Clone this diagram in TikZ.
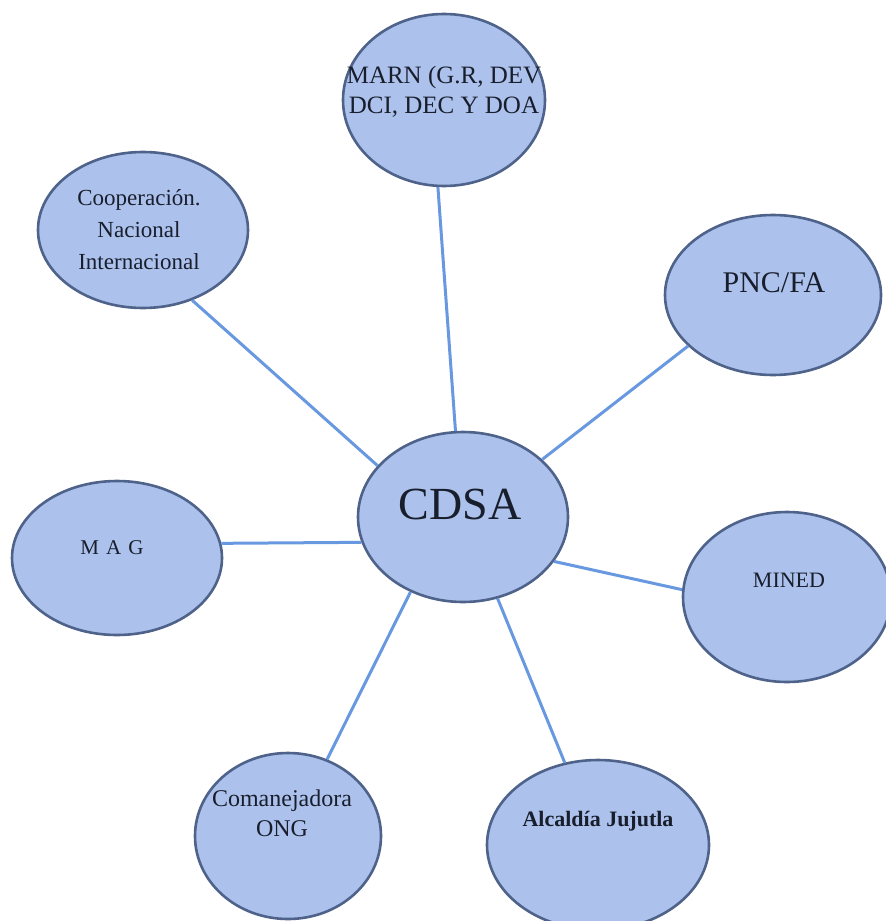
\documentclass[tikz,border=0pt]{standalone}
\usepackage{fontspec}
\setmainfont{Liberation Serif}
\usetikzlibrary{shapes.geometric}
\definecolor{bubblefill}{RGB}{172,194,236}
\definecolor{bubbleedge}{RGB}{78,98,138}
\definecolor{linkblue}{RGB}{104,152,224}
\definecolor{txt}{RGB}{25,30,45}
\tikzset{
  bubble/.style={ellipse, draw=bubbleedge, fill=bubblefill, line width=2.6pt, inner sep=0pt},
  link/.style={draw=linkblue, line width=3pt},
  lbl/.style={text=txt, align=center, inner sep=0pt}
}
\begin{document}
\begin{tikzpicture}[x=1pt,y=-1pt]
\useasboundingbox (0,0) rectangle (886,921);
% connectors (behind bubbles)
\coordinate (c0) at (463,517);
\node[bubble, minimum width=202pt, minimum height=172pt] (marn) at (444,100) {};
\node[bubble, minimum width=210pt, minimum height=156pt] (coop) at (143,230) {};
\node[bubble, minimum width=216pt, minimum height=160pt] (pnc) at (773,295) {};
\node[bubble, minimum width=210pt, minimum height=170pt] (cdsa) at (463,517) {};
\node[bubble, minimum width=210pt, minimum height=154pt] (mag) at (117,558) {};
\node[bubble, minimum width=208pt, minimum height=170pt] (mined) at (787,597) {};
\node[bubble, minimum width=186pt, minimum height=166pt] (coman) at (288,836) {};
\node[bubble, minimum width=222pt, minimum height=170pt] (alc) at (598,845) {};
% links
\draw[link] (marn.266) -- (cdsa.95);
\draw[link] (coop.305) -- (cdsa.149);
\draw[link] (pnc.211) -- (cdsa.36);
\draw[link] (mag.8) -- (cdsa.194);
\draw[link] (mined.176) -- (cdsa.334);
\draw[link] (coman.63) -- (cdsa.235);
\draw[link] (alc.112) -- (cdsa.293);
% labels
\node[lbl, font=\fontsize{25}{30}\selectfont] (tmarn) at (444,92) {MARN (G.R, DEV\\DCI, DEC Y DOA};
\node[lbl, font=\fontsize{23}{32}\selectfont] (tcoop) at (139,230) {Cooperación.\\Nacional\\Internacional};
\node[lbl, font=\fontsize{30}{34}\selectfont] (tpnc) at (774,283) {PNC/FA};
\node[lbl, font=\fontsize{46}{50}\selectfont] (tcdsa) at (460,504) {CDSA};
\node[lbl, font=\fontsize{21}{24}\selectfont] (tmag) at (112,548) {M\,\,A\,\,G};
\node[lbl, font=\fontsize{22}{26}\selectfont] (tmined) at (789,580) {MINED};
\node[lbl, font=\fontsize{24}{30}\selectfont] (tcoman) at (282,813) {Comanejadora\\ONG};
\node[lbl, font=\bfseries\fontsize{22}{26}\selectfont] (talc) at (598,821) {Alcaldía Jujutla};
\end{tikzpicture}
\end{document}
